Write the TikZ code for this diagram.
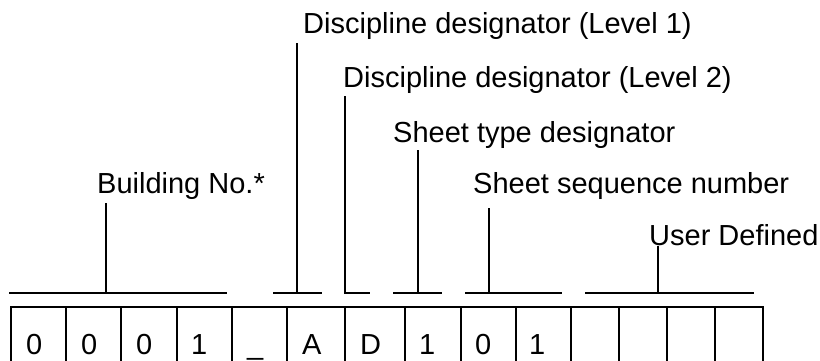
\documentclass[tikz,border=0pt]{standalone}
\usepackage{fontspec}
\setmainfont{Liberation Sans}
\begin{document}
\begin{tikzpicture}[x=1pt,y=-1pt,
  lbl/.style={anchor=base west,inner sep=0pt,font=\fontsize{29}{34}\selectfont},
  celltext/.style={anchor=base west,inner sep=0pt,font=\fontsize{29}{34}\selectfont},
  conn/.style={line width=1.6pt},
  boxline/.style={line width=2pt}]
\useasboundingbox (0,0) rectangle (820,360);
\clip (0,0) rectangle (820,360);
% labels
\node[lbl] (l1) at (303,33) {Discipline designator (Level 1)};
\node[lbl] (l2) at (343,87) {Discipline designator (Level 2)};
\node[lbl] (st) at (393,142) {Sheet type designator};
\node[lbl] (sq) at (473,193) {Sheet sequence number};
\node[lbl] (bn) at (97,193) {Building No.*};
\node[lbl] (ud) at (649,245) {User Defined};
% bracket coordinates
\coordinate (bnL) at (9,293);   \coordinate (bnR) at (227,293);
\coordinate (bnT) at (106,203); \coordinate (bnB) at (106,293);
\coordinate (l1L) at (273,293); \coordinate (l1R) at (322,293);
\coordinate (l1T) at (297,43);  \coordinate (l1B) at (297,293);
\coordinate (l2L) at (345,293); \coordinate (l2R) at (370,293);
\coordinate (l2T) at (345,96);
\coordinate (stL) at (393,293); \coordinate (stR) at (442,293);
\coordinate (stT) at (418,150); \coordinate (stB) at (418,293);
\coordinate (sqL) at (465,293); \coordinate (sqR) at (562,293);
\coordinate (sqT) at (489,208); \coordinate (sqB) at (489,293);
\coordinate (udL) at (585,293); \coordinate (udR) at (754,293);
\coordinate (udT) at (658,246); \coordinate (udB) at (658,293);
% brackets
\draw[conn] (bnL) -- (bnR); \draw[conn] (bnT) -- (bnB);
\draw[conn] (l1L) -- (l1R); \draw[conn] (l1T) -- (l1B);
\draw[conn] (l2T) -- (l2L) -- (l2R);
\draw[conn] (stL) -- (stR); \draw[conn] (stT) -- (stB);
\draw[conn] (sqL) -- (sqR); \draw[conn] (sqT) -- (sqB);
\draw[conn] (udL) -- (udR); \draw[conn] (udT) -- (udB);
% box
\draw[boxline] (11,380) -- (11,307) -- (763,307) -- (763,380);
\foreach \x in {66,121,177,232,287,345,405,461,516,571,619,667,715}
  \draw[boxline] (\x,307) -- (\x,380);
% cell texts
\node[celltext] (c1) at (26,354) {0};
\node[celltext] (c2) at (81,354) {0};
\node[celltext] (c3) at (136,354) {0};
\node[celltext] (c4) at (191,354) {1};
\node[celltext] (c5) at (247,354) {\_};
\node[celltext] (c6) at (302,354) {A};
\node[celltext] (c7) at (360,354) {D};
\node[celltext] (c8) at (419,354) {1};
\node[celltext] (c9) at (475,354) {0};
\node[celltext] (c10) at (529,354) {1};
\end{tikzpicture}
\end{document}
